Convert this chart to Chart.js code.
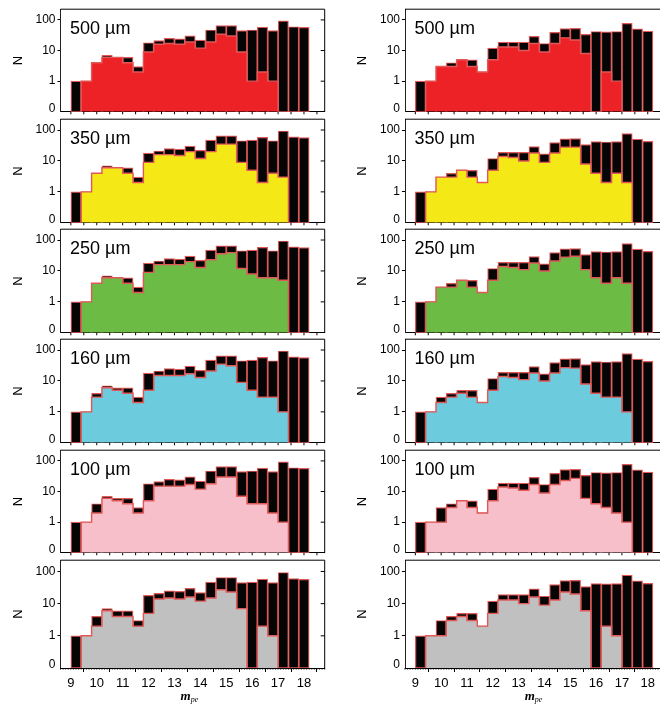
<!DOCTYPE html>
<html>
<head>
<meta charset="utf-8">
<script src="https://cdn.jsdelivr.net/npm/chart.js@4.4.1/dist/chart.umd.min.js"></script>
<style>
  html, body { margin: 0; padding: 0; background: #fff; }
  body { position: relative; width: 660px; height: 708px; overflow: hidden; }
  canvas { position: absolute; }
</style>
</head>
<body>
<script>
// Magnitude bins (centres), 0.4 mag wide
const binCenters = [9.2, 9.6, 10.0, 10.4, 10.8, 11.2, 11.6, 12.0, 12.4, 12.8, 13.2, 13.6,
                    14.0, 14.4, 14.8, 15.2, 15.6, 16.0, 16.4, 16.8, 17.2, 17.6, 18.0];
const binWidth = 0.4;
const xTickValues = [9, 10, 11, 12, 13, 14, 15, 16, 17, 18];
const yTickLabels = ['0', '1', '10', '100'];
const bandLabels = ['500 \u00b5m', '350 \u00b5m', '250 \u00b5m', '160 \u00b5m', '100 \u00b5m', ''];
const bandColors = ['#ec2227', '#f4e817', '#6bbb45', '#6ccbdc', '#f7bfca', '#c0c0c0'];

// Total counts per bin (black bars)
const totalLeft  = [1, 1, 4, 7, 6, 6, 3, 18, 21, 25, 24, 30, 22, 47, 65, 65, 45, 47, 58, 45, 93, 60, 57];
const totalRight = [1, 1, 3, 4, 5, 5, 2, 12, 19, 19, 19, 29, 17, 39, 52, 53, 34, 42, 41, 42, 77, 51, 43];

// Detected counts per band, left sample
const left500  = [0, 1, 4, 6, 6, 4, 2, 9, 16, 17, 16, 19, 12, 19, 34, 30, 9, 1, 2, 1, 0, 0, 0];
const left350  = [0, 1, 4, 6, 6, 4, 2, 9, 16, 16, 15, 20, 12, 20, 35, 35, 9, 5, 2, 4, 3, 0, 0];
const left250  = [0, 1, 4, 6, 6, 4, 2, 9, 16, 16, 16, 20, 13, 23, 36, 39, 12, 8, 6, 6, 5, 0, 0];
const left160  = [0, 1, 3, 6, 5, 4, 2, 5, 15, 15, 15, 17, 13, 21, 35, 31, 9, 5, 3, 3, 1, 0, 0];
const left100  = [0, 1, 2, 6, 5, 4, 2, 5, 15, 15, 15, 17, 12, 18, 30, 30, 7, 4, 4, 2, 1, 0, 0];
const leftAll  = [0, 1, 2, 6, 4, 4, 2, 5, 14, 15, 14, 16, 12, 15, 27, 23, 7, 0, 2, 1, 0, 0, 0];

// Detected counts per band, right sample
const right500 = [0, 1, 3, 3, 5, 3, 2, 5, 13, 13, 10, 17, 9, 17, 26, 22, 8, 0, 2, 1, 0, 0, 0];
const right350 = [0, 1, 3, 3, 5, 3, 2, 5, 14, 13, 10, 18, 9, 18, 28, 28, 8, 4, 2, 4, 2, 0, 0];
const right250 = [0, 1, 3, 3, 5, 3, 2, 5, 14, 13, 11, 18, 10, 21, 28, 30, 11, 6, 4, 6, 4, 0, 0];
const right160 = [0, 1, 2, 3, 4, 3, 2, 5, 14, 13, 11, 18, 10, 18, 27, 26, 8, 4, 3, 3, 1, 0, 0];
const right100 = [0, 1, 1, 3, 5, 3, 2, 5, 14, 13, 11, 17, 9, 17, 23, 27, 6, 4, 3, 2, 1, 0, 0];
const rightAll = [0, 1, 1, 3, 4, 3, 2, 5, 13, 13, 10, 16, 9, 13, 23, 20, 6, 0, 2, 1, 0, 0, 0];

const leftBands  = [left500, left350, left250, left160, left100, leftAll];
const rightBands = [right500, right350, right250, right160, right100, rightAll];

const OUTLINE = '#e05858';
const FONT = '"Liberation Sans", Arial, Helvetica, sans-serif';

// log axis with an extra decade below 1 that holds the "0" row
const toAxis = n => (n > 0 ? Math.log10(n) + 1 : 0);

const columns = [
  { left: 0,   width: 330, axisW: 60.5, padR: 5.3, totals: totalLeft,  bands: leftBands },
  { left: 344, width: 330, axisW: 61,   padR: 5.6, totals: totalRight, bands: rightBands }
];

const panelFrame = {
  id: 'panelFrame',
  afterDraw(chart, args, opts) {
    const { ctx, chartArea: a } = chart;
    const x = chart.scales.x, y = chart.scales.y;
    ctx.save();
    ctx.strokeStyle = '#000';
    ctx.lineWidth = 1;
    ctx.beginPath();
    ctx.moveTo(a.left, a.top);
    ctx.lineTo(a.right, a.top);
    ctx.lineTo(a.right, a.bottom);
    // inward ticks on the right border
    [1, 2, 3].forEach(v => {
      const py = y.getPixelForValue(v);
      ctx.moveTo(a.right, py);
      ctx.lineTo(a.right - 4, py);
    });
    ctx.stroke();

    // minor ticks under the bottom axis
    ctx.beginPath();
    if (opts.bottomRow) {
      for (let k = 86; k <= 188; k++) {
        const px = x.getPixelForValue(k / 10);
        ctx.moveTo(px, a.bottom);
        ctx.lineTo(px, a.bottom + 1.5);
      }
    } else {
      for (let k = 18; k <= 37; k++) {
        const px = x.getPixelForValue(k / 2);
        ctx.moveTo(px, a.bottom);
        ctx.lineTo(px, a.bottom + 2.5);
      }
    }
    ctx.stroke();

    // band label
    if (opts.label) {
      ctx.fillStyle = '#000';
      ctx.font = '18px ' + FONT;
      ctx.textAlign = 'left';
      ctx.textBaseline = 'alphabetic';
      ctx.fillText(opts.label, a.left + 9.5, a.top + 24.7);
    }

    // y-axis title
    ctx.save();
    ctx.translate(a.left - 42.5, (a.top + a.bottom) / 2);
    ctx.rotate(-Math.PI / 2);
    ctx.fillStyle = '#000';
    ctx.font = '13px ' + FONT;
    ctx.textAlign = 'center';
    ctx.textBaseline = 'middle';
    ctx.fillText('N', 0, 0);
    ctx.restore();

    // x-axis title, m with subscript pe
    if (opts.bottomRow) {
      const cx = x.getPixelForValue(13.5) + 2;
      ctx.fillStyle = '#000';
      ctx.textBaseline = 'alphabetic';
      ctx.font = 'italic bold 13px "Liberation Serif", "Times New Roman", serif';
      const mW = ctx.measureText('m').width;
      ctx.font = 'italic 8px "Liberation Serif", "Times New Roman", serif';
      const sW = ctx.measureText('pe').width;
      const startX = cx - (mW + sW) / 2;
      ctx.font = 'italic bold 13px "Liberation Serif", "Times New Roman", serif';
      ctx.textAlign = 'left';
      ctx.fillText('m', startX, 699.5 - chart.canvas.offsetTop);
      ctx.font = 'italic 8px "Liberation Serif", "Times New Roman", serif';
      ctx.fillText('pe', startX + mW, 702 - chart.canvas.offsetTop);
    }
    ctx.restore();
  }
};

function makePanel(col, row) {
  const c = columns[col];
  const plotTop = 4.8 + 110.2 * row;
  const plotH = 110.2;
  const canvasTop = row === 0 ? 0 : Math.round(plotTop - 5);
  const padTop = plotTop - canvasTop;
  const bottomRow = row === 5;
  const xAxisH = bottomRow ? 40 : 6;
  const canvasH = bottomRow ? 708 - canvasTop : Math.ceil(padTop + plotH + xAxisH);

  const cv = document.createElement('canvas');
  cv.width = c.width;
  cv.height = canvasH;
  cv.style.left = c.left + 'px';
  cv.style.top = canvasTop + 'px';
  cv.style.width = c.width + 'px';
  cv.style.height = canvasH + 'px';
  document.body.appendChild(cv);

  const totals = c.totals;
  const detected = c.bands[row];

  const barData = binCenters.map((bx, i) => ({ x: bx, y: totals[i] > 0 ? toAxis(totals[i]) : null }));
  const stepData = [];
  binCenters.forEach((bx, i) => {
    const v = toAxis(detected[i]);
    stepData.push({ x: bx - binWidth / 2, y: v });
    stepData.push({ x: bx + binWidth / 2, y: v });
  });

  new Chart(cv, {
    type: 'bar',
    data: {
      datasets: [
        {
          type: 'line',
          data: stepData,
          order: 0,
          borderColor: OUTLINE,
          borderWidth: 1.4,
          backgroundColor: bandColors[row],
          fill: 'origin',
          pointRadius: 0,
          tension: 0
        },
        {
          type: 'bar',
          data: barData,
          order: 1,
          grouped: false,
          backgroundColor: '#050505',
          borderColor: OUTLINE,
          borderWidth: 1.2,
          borderSkipped: 'start',
          barPercentage: 1,
          categoryPercentage: 1
        }
      ]
    },
    options: {
      responsive: false,
      animation: false,
      events: [],
      layout: { padding: { top: padTop, right: c.padR, left: 0, bottom: 0 } },
      plugins: {
        legend: { display: false },
        tooltip: { enabled: false },
        panelFrame: { label: bandLabels[row], bottomRow }
      },
      scales: {
        x: {
          type: 'linear',
          min: 8.6,
          max: 18.8,
          offset: false,
          afterBuildTicks: s => { s.ticks = xTickValues.map(v => ({ value: v })); },
          afterFit: s => { s.height = xAxisH; },
          border: { display: true, color: '#000', width: 1 },
          grid: { drawOnChartArea: false, drawTicks: bottomRow, tickLength: 4, color: '#000' },
          ticks: {
            display: bottomRow,
            autoSkip: false,
            maxRotation: 0,
            padding: 4,
            color: '#000',
            font: { family: FONT, size: 13 },
            callback: v => String(v)
          }
        },
        y: {
          type: 'linear',
          min: 0,
          max: 3.35,
          afterBuildTicks: s => { s.ticks = [0.09, 1, 2, 3].map(v => ({ value: v })); },
          afterFit: s => { s.width = c.axisW; },
          border: { display: true, color: '#222', width: 1 },
          grid: {
            drawOnChartArea: false,
            drawTicks: true,
            tickLength: 3,
            tickColor: ctx => (ctx.tick && ctx.tick.value < 0.5 ? 'rgba(0,0,0,0)' : '#000')
          },
          ticks: {
            autoSkip: false,
            padding: 2,
            color: '#000',
            font: { family: FONT, size: 12 },
            callback: (v, i) => yTickLabels[i]
          }
        }
      }
    },
    plugins: [panelFrame]
  });
}

for (let row = 0; row < 6; row++) {
  makePanel(0, row);
  makePanel(1, row);
}
</script>
</body>
</html>
